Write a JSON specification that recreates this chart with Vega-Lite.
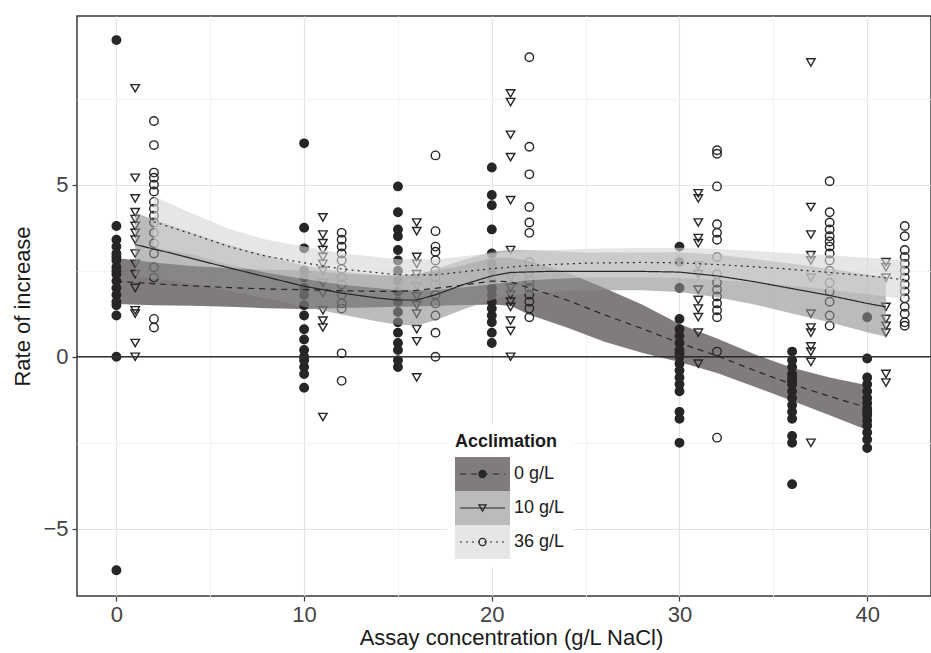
{
  "$schema": "https://vega.github.io/schema/vega-lite/v6.json",
  "width": 854,
  "height": 580,
  "autosize": "none",
  "padding": {"left": 77, "top": 16, "right": 0, "bottom": 57},
  "background": "white",
  "config": {
    "font": "Liberation Sans",
    "view": {"stroke": "#3a3a3a", "strokeWidth": 1.5}
  },
  "datasets": {
    "pts": [
      {"g":"0 g/L","x":0,"y":9.2},{"g":"0 g/L","x":0,"y":3.8},{"g":"0 g/L","x":0,"y":3.4},{"g":"0 g/L","x":0,"y":3.2},{"g":"0 g/L","x":0,"y":3.0},{"g":"0 g/L","x":0,"y":2.9},{"g":"0 g/L","x":0,"y":2.8},{"g":"0 g/L","x":0,"y":2.6},{"g":"0 g/L","x":0,"y":2.5},{"g":"0 g/L","x":0,"y":2.4},{"g":"0 g/L","x":0,"y":2.2},{"g":"0 g/L","x":0,"y":2.0},{"g":"0 g/L","x":0,"y":1.8},{"g":"0 g/L","x":0,"y":1.6},{"g":"0 g/L","x":0,"y":1.5},{"g":"0 g/L","x":0,"y":1.2},{"g":"0 g/L","x":0,"y":0},{"g":"0 g/L","x":0,"y":-6.2},
      {"g":"0 g/L","x":10,"y":6.2},{"g":"0 g/L","x":10,"y":3.75},{"g":"0 g/L","x":10,"y":3.15},{"g":"0 g/L","x":10,"y":2.5},{"g":"0 g/L","x":10,"y":2.3},{"g":"0 g/L","x":10,"y":2.0},{"g":"0 g/L","x":10,"y":1.8},{"g":"0 g/L","x":10,"y":1.5},{"g":"0 g/L","x":10,"y":1.2},{"g":"0 g/L","x":10,"y":0.8},{"g":"0 g/L","x":10,"y":0.5},{"g":"0 g/L","x":10,"y":0.2},{"g":"0 g/L","x":10,"y":0},{"g":"0 g/L","x":10,"y":-0.1},{"g":"0 g/L","x":10,"y":-0.3},{"g":"0 g/L","x":10,"y":-0.5},{"g":"0 g/L","x":10,"y":-0.9},
      {"g":"0 g/L","x":15,"y":4.95},{"g":"0 g/L","x":15,"y":4.2},{"g":"0 g/L","x":15,"y":3.7},{"g":"0 g/L","x":15,"y":3.5},{"g":"0 g/L","x":15,"y":3.1},{"g":"0 g/L","x":15,"y":2.8},{"g":"0 g/L","x":15,"y":2.5},{"g":"0 g/L","x":15,"y":2.2},{"g":"0 g/L","x":15,"y":1.9},{"g":"0 g/L","x":15,"y":1.6},{"g":"0 g/L","x":15,"y":1.3},{"g":"0 g/L","x":15,"y":1.0},{"g":"0 g/L","x":15,"y":0.7},{"g":"0 g/L","x":15,"y":0.4},{"g":"0 g/L","x":15,"y":0.2},{"g":"0 g/L","x":15,"y":-0.1},{"g":"0 g/L","x":15,"y":-0.3},
      {"g":"0 g/L","x":20,"y":5.5},{"g":"0 g/L","x":20,"y":4.7},{"g":"0 g/L","x":20,"y":4.4},{"g":"0 g/L","x":20,"y":3.7},{"g":"0 g/L","x":20,"y":3.0},{"g":"0 g/L","x":20,"y":2.7},{"g":"0 g/L","x":20,"y":2.5},{"g":"0 g/L","x":20,"y":2.2},{"g":"0 g/L","x":20,"y":2.0},{"g":"0 g/L","x":20,"y":1.8},{"g":"0 g/L","x":20,"y":1.6},{"g":"0 g/L","x":20,"y":1.4},{"g":"0 g/L","x":20,"y":1.2},{"g":"0 g/L","x":20,"y":1.0},{"g":"0 g/L","x":20,"y":0.7},{"g":"0 g/L","x":20,"y":0.4},
      {"g":"0 g/L","x":30,"y":3.2},{"g":"0 g/L","x":30,"y":2.75},{"g":"0 g/L","x":30,"y":2.0},{"g":"0 g/L","x":30,"y":1.1},{"g":"0 g/L","x":30,"y":0.8},{"g":"0 g/L","x":30,"y":0.6},{"g":"0 g/L","x":30,"y":0.4},{"g":"0 g/L","x":30,"y":0.2},{"g":"0 g/L","x":30,"y":0.1},{"g":"0 g/L","x":30,"y":0},{"g":"0 g/L","x":30,"y":-0.2},{"g":"0 g/L","x":30,"y":-0.4},{"g":"0 g/L","x":30,"y":-0.6},{"g":"0 g/L","x":30,"y":-0.8},{"g":"0 g/L","x":30,"y":-1.0},{"g":"0 g/L","x":30,"y":-1.6},{"g":"0 g/L","x":30,"y":-1.8},{"g":"0 g/L","x":30,"y":-2.5},
      {"g":"0 g/L","x":36,"y":0.15},{"g":"0 g/L","x":36,"y":-0.1},{"g":"0 g/L","x":36,"y":-0.3},{"g":"0 g/L","x":36,"y":-0.5},{"g":"0 g/L","x":36,"y":-0.6},{"g":"0 g/L","x":36,"y":-0.7},{"g":"0 g/L","x":36,"y":-0.8},{"g":"0 g/L","x":36,"y":-1.0},{"g":"0 g/L","x":36,"y":-1.2},{"g":"0 g/L","x":36,"y":-1.4},{"g":"0 g/L","x":36,"y":-1.6},{"g":"0 g/L","x":36,"y":-1.8},{"g":"0 g/L","x":36,"y":-2.3},{"g":"0 g/L","x":36,"y":-2.5},{"g":"0 g/L","x":36,"y":-3.7},
      {"g":"0 g/L","x":40,"y":1.15},{"g":"0 g/L","x":40,"y":-0.05},{"g":"0 g/L","x":40,"y":-0.6},{"g":"0 g/L","x":40,"y":-0.8},{"g":"0 g/L","x":40,"y":-1.0},{"g":"0 g/L","x":40,"y":-1.2},{"g":"0 g/L","x":40,"y":-1.35},{"g":"0 g/L","x":40,"y":-1.5},{"g":"0 g/L","x":40,"y":-1.6},{"g":"0 g/L","x":40,"y":-1.7},{"g":"0 g/L","x":40,"y":-1.85},{"g":"0 g/L","x":40,"y":-2.0},{"g":"0 g/L","x":40,"y":-2.2},{"g":"0 g/L","x":40,"y":-2.4},{"g":"0 g/L","x":40,"y":-2.65},
      {"g":"10 g/L","x":1,"y":7.8},{"g":"10 g/L","x":1,"y":5.2},{"g":"10 g/L","x":1,"y":4.6},{"g":"10 g/L","x":1,"y":4.2},{"g":"10 g/L","x":1,"y":4.0},{"g":"10 g/L","x":1,"y":3.8},{"g":"10 g/L","x":1,"y":3.6},{"g":"10 g/L","x":1,"y":3.4},{"g":"10 g/L","x":1,"y":3.0},{"g":"10 g/L","x":1,"y":2.7},{"g":"10 g/L","x":1,"y":2.4},{"g":"10 g/L","x":1,"y":2.0},{"g":"10 g/L","x":1,"y":1.35},{"g":"10 g/L","x":1,"y":1.25},{"g":"10 g/L","x":1,"y":0.4},{"g":"10 g/L","x":1,"y":0},
      {"g":"10 g/L","x":11,"y":4.05},{"g":"10 g/L","x":11,"y":3.55},{"g":"10 g/L","x":11,"y":3.3},{"g":"10 g/L","x":11,"y":3.1},{"g":"10 g/L","x":11,"y":2.9},{"g":"10 g/L","x":11,"y":2.7},{"g":"10 g/L","x":11,"y":2.5},{"g":"10 g/L","x":11,"y":2.15},{"g":"10 g/L","x":11,"y":1.85},{"g":"10 g/L","x":11,"y":1.35},{"g":"10 g/L","x":11,"y":1.05},{"g":"10 g/L","x":11,"y":0.85},{"g":"10 g/L","x":11,"y":-1.75},
      {"g":"10 g/L","x":16,"y":3.9},{"g":"10 g/L","x":16,"y":3.65},{"g":"10 g/L","x":16,"y":2.9},{"g":"10 g/L","x":16,"y":2.7},{"g":"10 g/L","x":16,"y":2.4},{"g":"10 g/L","x":16,"y":2.05},{"g":"10 g/L","x":16,"y":1.75},{"g":"10 g/L","x":16,"y":1.5},{"g":"10 g/L","x":16,"y":1.25},{"g":"10 g/L","x":16,"y":0.8},{"g":"10 g/L","x":16,"y":0.45},{"g":"10 g/L","x":16,"y":-0.6},
      {"g":"10 g/L","x":21,"y":7.65},{"g":"10 g/L","x":21,"y":7.4},{"g":"10 g/L","x":21,"y":6.45},{"g":"10 g/L","x":21,"y":5.8},{"g":"10 g/L","x":21,"y":4.55},{"g":"10 g/L","x":21,"y":3.1},{"g":"10 g/L","x":21,"y":2.3},{"g":"10 g/L","x":21,"y":2.0},{"g":"10 g/L","x":21,"y":1.8},{"g":"10 g/L","x":21,"y":1.6},{"g":"10 g/L","x":21,"y":1.45},{"g":"10 g/L","x":21,"y":1.05},{"g":"10 g/L","x":21,"y":0.75},{"g":"10 g/L","x":21,"y":0},
      {"g":"10 g/L","x":31,"y":4.75},{"g":"10 g/L","x":31,"y":4.6},{"g":"10 g/L","x":31,"y":3.9},{"g":"10 g/L","x":31,"y":3.45},{"g":"10 g/L","x":31,"y":3.3},{"g":"10 g/L","x":31,"y":2.65},{"g":"10 g/L","x":31,"y":2.4},{"g":"10 g/L","x":31,"y":1.95},{"g":"10 g/L","x":31,"y":1.65},{"g":"10 g/L","x":31,"y":1.4},{"g":"10 g/L","x":31,"y":1.15},{"g":"10 g/L","x":31,"y":0.7},{"g":"10 g/L","x":31,"y":-0.2},
      {"g":"10 g/L","x":37,"y":8.55},{"g":"10 g/L","x":37,"y":4.35},{"g":"10 g/L","x":37,"y":3.55},{"g":"10 g/L","x":37,"y":2.95},{"g":"10 g/L","x":37,"y":2.8},{"g":"10 g/L","x":37,"y":2.3},{"g":"10 g/L","x":37,"y":1.25},{"g":"10 g/L","x":37,"y":0.85},{"g":"10 g/L","x":37,"y":0.7},{"g":"10 g/L","x":37,"y":0.3},{"g":"10 g/L","x":37,"y":0.15},{"g":"10 g/L","x":37,"y":-0.15},{"g":"10 g/L","x":37,"y":-2.5},
      {"g":"10 g/L","x":41,"y":2.75},{"g":"10 g/L","x":41,"y":2.6},{"g":"10 g/L","x":41,"y":2.3},{"g":"10 g/L","x":41,"y":1.45},{"g":"10 g/L","x":41,"y":1.1},{"g":"10 g/L","x":41,"y":0.9},{"g":"10 g/L","x":41,"y":0.7},{"g":"10 g/L","x":41,"y":-0.5},{"g":"10 g/L","x":41,"y":-0.75},
      {"g":"36 g/L","x":2,"y":6.85},{"g":"36 g/L","x":2,"y":6.15},{"g":"36 g/L","x":2,"y":5.35},{"g":"36 g/L","x":2,"y":5.2},{"g":"36 g/L","x":2,"y":5.0},{"g":"36 g/L","x":2,"y":4.8},{"g":"36 g/L","x":2,"y":4.5},{"g":"36 g/L","x":2,"y":4.3},{"g":"36 g/L","x":2,"y":4.1},{"g":"36 g/L","x":2,"y":3.9},{"g":"36 g/L","x":2,"y":3.6},{"g":"36 g/L","x":2,"y":3.3},{"g":"36 g/L","x":2,"y":3.0},{"g":"36 g/L","x":2,"y":2.6},{"g":"36 g/L","x":2,"y":2.3},{"g":"36 g/L","x":2,"y":1.1},{"g":"36 g/L","x":2,"y":0.85},
      {"g":"36 g/L","x":12,"y":3.6},{"g":"36 g/L","x":12,"y":3.4},{"g":"36 g/L","x":12,"y":3.2},{"g":"36 g/L","x":12,"y":3.0},{"g":"36 g/L","x":12,"y":2.8},{"g":"36 g/L","x":12,"y":2.55},{"g":"36 g/L","x":12,"y":2.3},{"g":"36 g/L","x":12,"y":2.1},{"g":"36 g/L","x":12,"y":1.8},{"g":"36 g/L","x":12,"y":1.55},{"g":"36 g/L","x":12,"y":1.4},{"g":"36 g/L","x":12,"y":0.1},{"g":"36 g/L","x":12,"y":-0.7},
      {"g":"36 g/L","x":17,"y":5.85},{"g":"36 g/L","x":17,"y":3.65},{"g":"36 g/L","x":17,"y":3.2},{"g":"36 g/L","x":17,"y":3.05},{"g":"36 g/L","x":17,"y":2.8},{"g":"36 g/L","x":17,"y":2.5},{"g":"36 g/L","x":17,"y":2.3},{"g":"36 g/L","x":17,"y":2.1},{"g":"36 g/L","x":17,"y":1.8},{"g":"36 g/L","x":17,"y":1.55},{"g":"36 g/L","x":17,"y":1.2},{"g":"36 g/L","x":17,"y":0.7},{"g":"36 g/L","x":17,"y":0},
      {"g":"36 g/L","x":22,"y":8.7},{"g":"36 g/L","x":22,"y":6.1},{"g":"36 g/L","x":22,"y":5.3},{"g":"36 g/L","x":22,"y":4.35},{"g":"36 g/L","x":22,"y":3.9},{"g":"36 g/L","x":22,"y":3.6},{"g":"36 g/L","x":22,"y":2.75},{"g":"36 g/L","x":22,"y":2.45},{"g":"36 g/L","x":22,"y":2.2},{"g":"36 g/L","x":22,"y":2.0},{"g":"36 g/L","x":22,"y":1.8},{"g":"36 g/L","x":22,"y":1.6},{"g":"36 g/L","x":22,"y":1.4},{"g":"36 g/L","x":22,"y":1.15},
      {"g":"36 g/L","x":32,"y":6.0},{"g":"36 g/L","x":32,"y":5.9},{"g":"36 g/L","x":32,"y":4.95},{"g":"36 g/L","x":32,"y":3.85},{"g":"36 g/L","x":32,"y":3.6},{"g":"36 g/L","x":32,"y":3.4},{"g":"36 g/L","x":32,"y":2.9},{"g":"36 g/L","x":32,"y":2.4},{"g":"36 g/L","x":32,"y":2.15},{"g":"36 g/L","x":32,"y":1.95},{"g":"36 g/L","x":32,"y":1.75},{"g":"36 g/L","x":32,"y":1.55},{"g":"36 g/L","x":32,"y":1.35},{"g":"36 g/L","x":32,"y":1.15},{"g":"36 g/L","x":32,"y":0.15},{"g":"36 g/L","x":32,"y":-2.35},
      {"g":"36 g/L","x":38,"y":5.1},{"g":"36 g/L","x":38,"y":4.2},{"g":"36 g/L","x":38,"y":3.9},{"g":"36 g/L","x":38,"y":3.7},{"g":"36 g/L","x":38,"y":3.5},{"g":"36 g/L","x":38,"y":3.35},{"g":"36 g/L","x":38,"y":3.2},{"g":"36 g/L","x":38,"y":3.0},{"g":"36 g/L","x":38,"y":2.8},{"g":"36 g/L","x":38,"y":2.5},{"g":"36 g/L","x":38,"y":2.15},{"g":"36 g/L","x":38,"y":1.9},{"g":"36 g/L","x":38,"y":1.6},{"g":"36 g/L","x":38,"y":1.2},{"g":"36 g/L","x":38,"y":0.9},
      {"g":"36 g/L","x":42,"y":3.8},{"g":"36 g/L","x":42,"y":3.5},{"g":"36 g/L","x":42,"y":3.1},{"g":"36 g/L","x":42,"y":2.9},{"g":"36 g/L","x":42,"y":2.7},{"g":"36 g/L","x":42,"y":2.5},{"g":"36 g/L","x":42,"y":2.3},{"g":"36 g/L","x":42,"y":2.1},{"g":"36 g/L","x":42,"y":1.9},{"g":"36 g/L","x":42,"y":1.7},{"g":"36 g/L","x":42,"y":1.45},{"g":"36 g/L","x":42,"y":1.25},{"g":"36 g/L","x":42,"y":1.0},{"g":"36 g/L","x":42,"y":0.9}
    ],
    "fit": [
      {"g":"0 g/L","x":0,"fit":2.2,"lo":1.53,"hi":2.87},
      {"g":"0 g/L","x":2,"fit":2.12,"lo":1.5,"hi":2.74},
      {"g":"0 g/L","x":4,"fit":2.06,"lo":1.48,"hi":2.64},
      {"g":"0 g/L","x":6,"fit":2.01,"lo":1.45,"hi":2.57},
      {"g":"0 g/L","x":8,"fit":1.97,"lo":1.41,"hi":2.53},
      {"g":"0 g/L","x":10,"fit":1.95,"lo":1.39,"hi":2.51},
      {"g":"0 g/L","x":12,"fit":1.92,"lo":1.42,"hi":2.42},
      {"g":"0 g/L","x":14,"fit":1.9,"lo":1.44,"hi":2.36},
      {"g":"0 g/L","x":15,"fit":1.9,"lo":1.45,"hi":2.35},
      {"g":"0 g/L","x":16,"fit":1.93,"lo":1.46,"hi":2.4},
      {"g":"0 g/L","x":18,"fit":2.05,"lo":1.5,"hi":2.6},
      {"g":"0 g/L","x":20,"fit":2.2,"lo":1.52,"hi":2.88},
      {"g":"0 g/L","x":21,"fit":2.18,"lo":1.48,"hi":2.88},
      {"g":"0 g/L","x":22,"fit":2.0,"lo":1.22,"hi":2.78},
      {"g":"0 g/L","x":24,"fit":1.65,"lo":0.85,"hi":2.45},
      {"g":"0 g/L","x":26,"fit":1.22,"lo":0.44,"hi":2.0},
      {"g":"0 g/L","x":28,"fit":0.82,"lo":0.12,"hi":1.52},
      {"g":"0 g/L","x":30,"fit":0.4,"lo":-0.15,"hi":0.95},
      {"g":"0 g/L","x":32,"fit":0.03,"lo":-0.47,"hi":0.53},
      {"g":"0 g/L","x":34,"fit":-0.4,"lo":-0.87,"hi":0.07},
      {"g":"0 g/L","x":36,"fit":-0.8,"lo":-1.28,"hi":-0.32},
      {"g":"0 g/L","x":38,"fit":-1.15,"lo":-1.7,"hi":-0.6},
      {"g":"0 g/L","x":40,"fit":-1.48,"lo":-2.13,"hi":-0.83},
      {"g":"10 g/L","x":1,"fit":3.26,"lo":2.34,"hi":4.18},
      {"g":"10 g/L","x":3,"fit":3.0,"lo":2.2,"hi":3.8},
      {"g":"10 g/L","x":5,"fit":2.72,"lo":2.02,"hi":3.42},
      {"g":"10 g/L","x":7,"fit":2.45,"lo":1.81,"hi":3.09},
      {"g":"10 g/L","x":10,"fit":2.05,"lo":1.45,"hi":2.65},
      {"g":"10 g/L","x":12,"fit":1.85,"lo":1.23,"hi":2.47},
      {"g":"10 g/L","x":14,"fit":1.7,"lo":1.02,"hi":2.38},
      {"g":"10 g/L","x":15,"fit":1.65,"lo":0.93,"hi":2.37},
      {"g":"10 g/L","x":16,"fit":1.65,"lo":0.91,"hi":2.39},
      {"g":"10 g/L","x":17,"fit":1.8,"lo":1.06,"hi":2.54},
      {"g":"10 g/L","x":18.5,"fit":2.1,"lo":1.38,"hi":2.82},
      {"g":"10 g/L","x":20,"fit":2.35,"lo":1.65,"hi":3.05},
      {"g":"10 g/L","x":21,"fit":2.45,"lo":1.79,"hi":3.11},
      {"g":"10 g/L","x":23,"fit":2.48,"lo":1.88,"hi":3.08},
      {"g":"10 g/L","x":25,"fit":2.48,"lo":1.93,"hi":3.03},
      {"g":"10 g/L","x":28,"fit":2.48,"lo":1.93,"hi":3.03},
      {"g":"10 g/L","x":30,"fit":2.46,"lo":1.88,"hi":3.04},
      {"g":"10 g/L","x":32,"fit":2.35,"lo":1.73,"hi":2.97},
      {"g":"10 g/L","x":34,"fit":2.18,"lo":1.52,"hi":2.84},
      {"g":"10 g/L","x":36,"fit":1.98,"lo":1.26,"hi":2.7},
      {"g":"10 g/L","x":38,"fit":1.78,"lo":1.0,"hi":2.56},
      {"g":"10 g/L","x":40,"fit":1.55,"lo":0.71,"hi":2.39},
      {"g":"10 g/L","x":41,"fit":1.45,"lo":0.58,"hi":2.32},
      {"g":"36 g/L","x":2,"fit":3.92,"lo":3.18,"hi":4.66},
      {"g":"36 g/L","x":4,"fit":3.57,"lo":2.97,"hi":4.17},
      {"g":"36 g/L","x":6,"fit":3.2,"lo":2.68,"hi":3.72},
      {"g":"36 g/L","x":8,"fit":2.92,"lo":2.44,"hi":3.4},
      {"g":"36 g/L","x":10,"fit":2.73,"lo":2.26,"hi":3.2},
      {"g":"36 g/L","x":12,"fit":2.55,"lo":2.09,"hi":3.01},
      {"g":"36 g/L","x":15,"fit":2.38,"lo":1.93,"hi":2.83},
      {"g":"36 g/L","x":17,"fit":2.38,"lo":1.93,"hi":2.83},
      {"g":"36 g/L","x":19,"fit":2.5,"lo":2.05,"hi":2.95},
      {"g":"36 g/L","x":20,"fit":2.56,"lo":2.11,"hi":3.01},
      {"g":"36 g/L","x":22,"fit":2.65,"lo":2.22,"hi":3.08},
      {"g":"36 g/L","x":25,"fit":2.72,"lo":2.3,"hi":3.14},
      {"g":"36 g/L","x":28,"fit":2.74,"lo":2.32,"hi":3.16},
      {"g":"36 g/L","x":30,"fit":2.73,"lo":2.29,"hi":3.17},
      {"g":"36 g/L","x":32,"fit":2.68,"lo":2.23,"hi":3.13},
      {"g":"36 g/L","x":35,"fit":2.58,"lo":2.12,"hi":3.04},
      {"g":"36 g/L","x":38,"fit":2.45,"lo":1.95,"hi":2.95},
      {"g":"36 g/L","x":40,"fit":2.35,"lo":1.82,"hi":2.88},
      {"g":"36 g/L","x":42,"fit":2.24,"lo":1.68,"hi":2.8}
    ]
  },
  "layer": [
    {
      "data": {"name": "pts"},
      "mark": {"type": "point", "filled": false, "color": "#262626", "strokeWidth": 1.4, "opacity": 1},
      "encoding": {
        "x": {
          "field": "x", "type": "quantitative",
          "scale": {"domain": [-2.1, 43.4], "nice": false, "zero": false},
          "axis": {
            "title": "Assay concentration (g/L NaCl)",
            "values": [0, 5, 10, 15, 20, 25, 30, 35, 40],
            "labelExpr": "datum.value % 10 === 0 ? datum.label : ''",
            "gridColor": {"condition": {"test": "datum.value % 10 === 0", "value": "#e4e4e4"}, "value": "#f3f3f3"},
            "gridWidth": 1.2,
            "tickOpacity": {"condition": {"test": "datum.value % 10 === 0", "value": 1}, "value": 0},
            "tickColor": "#3a3a3a", "tickSize": 5, "tickWidth": 1.2,
            "domain": false,
            "labelFontSize": 22, "labelColor": "#444444", "labelPadding": 3,
            "titleFontSize": 22, "titleColor": "#1a1a1a", "titleFontWeight": "normal",
            "titlePadding": 2, "titleX": 434
          }
        },
        "y": {
          "field": "y", "type": "quantitative",
          "scale": {"domain": [-6.95, 9.9], "nice": false, "zero": false},
          "axis": {
            "title": "Rate of increase",
            "values": [-5, -2.5, 0, 2.5, 5, 7.5],
            "labelExpr": "datum.value % 5 === 0 ? datum.label : ''",
            "gridColor": {"condition": {"test": "datum.value % 5 === 0", "value": "#e4e4e4"}, "value": "#f3f3f3"},
            "gridWidth": 1.2,
            "tickOpacity": {"condition": {"test": "datum.value % 5 === 0", "value": 1}, "value": 0},
            "tickColor": "#3a3a3a", "tickSize": 5, "tickWidth": 1.2,
            "domain": false,
            "labelFontSize": 22, "labelColor": "#444444", "labelPadding": 4,
            "titleFontSize": 22, "titleColor": "#1a1a1a", "titleFontWeight": "normal",
            "titlePadding": 8
          }
        },
        "shape": {
          "field": "g", "type": "nominal",
          "scale": {
            "domain": ["0 g/L", "10 g/L", "36 g/L"],
            "range": [
              "M1,0A1,1 0 1,0 -1,0A1,1 0 1,0 1,0ZM0.75,0A0.75,0.75 0 1,0 -0.75,0A0.75,0.75 0 1,0 0.75,0ZM0.5,0A0.5,0.5 0 1,0 -0.5,0A0.5,0.5 0 1,0 0.5,0ZM0.25,0A0.25,0.25 0 1,0 -0.25,0A0.25,0.25 0 1,0 0.25,0Z",
              "triangle-down",
              "circle"
            ]
          },
          "legend": {
            "title": " ", "orient": "none", "legendX": 370, "legendY": 409, "zindex": 3,
            "padding": 8, "clipHeight": 34, "rowPadding": 0,
            "symbolSize": 50, "symbolStrokeWidth": 1.3, "symbolStrokeColor": "#262626", "symbolOffset": 18.5,
            "labelFontSize": 18, "labelExpr": "''",
            "titleFontSize": 18, "titleFontWeight": "bold", "titlePadding": 6,
            "encode": {"symbols": {
              "stroke": {"value": "#262626"},
              "strokeWidth": {"value": 1.3},
              "fill": {"value": {"expr": "(datum.value === '0 g/L' || datum.label === '0 g/L') ? '#262626' : 'transparent'"}}
            }}
          }
        },
        "size": {
          "field": "g", "type": "nominal",
          "scale": {"domain": ["0 g/L", "10 g/L", "36 g/L"], "range": [72, 72, 44]},
          "legend": null
        }
      }
    },
    {
      "data": {"name": "pts"},
      "transform": [{"filter": "datum.g === '0 g/L'"}],
      "mark": {"type": "circle", "color": "#262626", "size": 72, "opacity": 1},
      "encoding": {
        "x": {"field": "x", "type": "quantitative"},
        "y": {"field": "y", "type": "quantitative"}
      }
    },
    {
      "data": {"values": [{}]},
      "mark": {"type": "rule", "color": "#333333", "strokeWidth": 1.3},
      "encoding": {"y": {"datum": 0}}
    },
    {
      "data": {"name": "fit"},
      "mark": {"type": "area", "opacity": 0.6},
      "encoding": {
        "x": {"field": "x", "type": "quantitative"},
        "y": {"field": "lo", "type": "quantitative"},
        "y2": {"field": "hi"},
        "fill": {
          "field": "g", "type": "nominal",
          "scale": {"domain": ["0 g/L", "10 g/L", "36 g/L"], "range": ["#2a2523", "#8e8e8e", "#d6d6d6"]},
          "legend": {
            "title": "Acclimation", "orient": "none", "legendX": 370, "legendY": 409, "zindex": 1,
            "fillColor": "white", "padding": 8, "clipHeight": 34, "rowPadding": 0,
            "symbolType": "M-1,-0.618H1V0.618H-1Z", "symbolSize": 3025, "symbolStrokeWidth": 0, "symbolOpacity": 0.6,
            "labelFontSize": 18, "labelColor": "#1a1a1a", "labelOffset": 4,
            "titleFontSize": 18, "titleFontWeight": "bold", "titleColor": "#1a1a1a", "titlePadding": 6
          }
        }
      }
    },
    {
      "data": {"name": "fit"},
      "mark": {"type": "line", "color": "#262626", "strokeWidth": 1.2},
      "encoding": {
        "x": {"field": "x", "type": "quantitative"},
        "y": {"field": "fit", "type": "quantitative"},
        "strokeDash": {
          "field": "g", "type": "nominal",
          "scale": {"domain": ["0 g/L", "10 g/L", "36 g/L"], "range": [[6, 5], [1, 0], [2, 4]]},
          "legend": {
            "title": " ", "orient": "none", "legendX": 370, "legendY": 409, "zindex": 2,
            "padding": 8, "clipHeight": 34, "rowPadding": 0,
            "symbolType": "stroke", "symbolSize": 2025, "symbolStrokeWidth": 1.2, "symbolStrokeColor": "#262626", "symbolOffset": 4,
            "labelFontSize": 18, "labelExpr": "''",
            "titleFontSize": 18, "titleFontWeight": "bold", "titlePadding": 6
          }
        }
      }
    }
  ],
  "resolve": {
    "legend": {"fill": "independent", "shape": "independent", "strokeDash": "independent"}
  }
}
